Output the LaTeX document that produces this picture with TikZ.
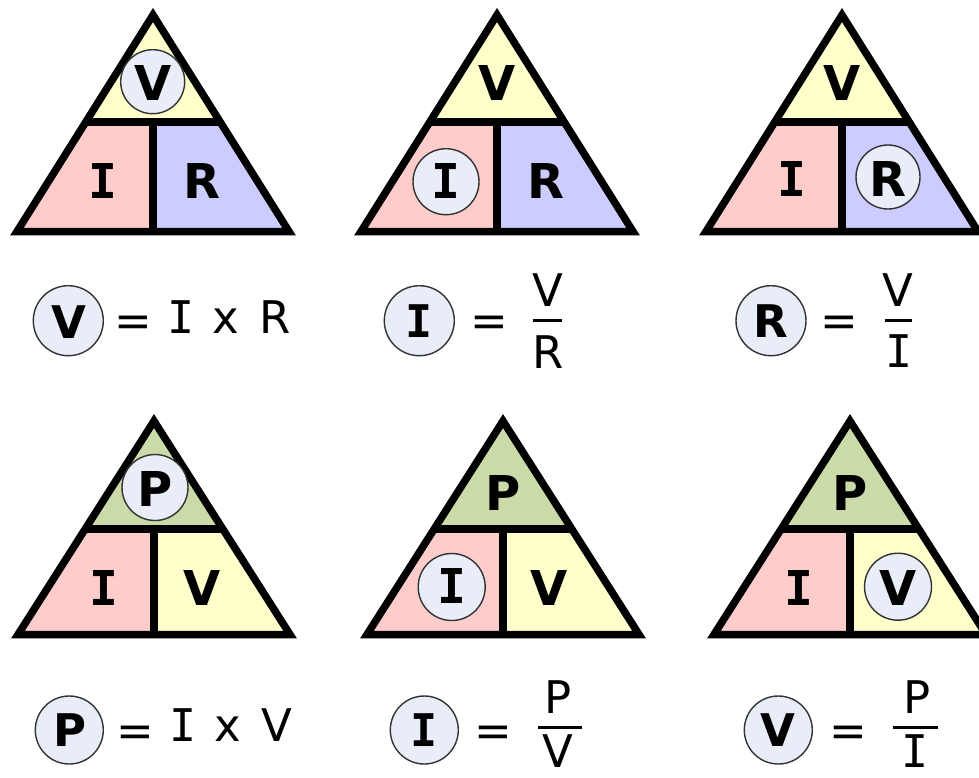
\documentclass[tikz,border=0pt]{standalone}
\usepackage{fontspec}
\setmainfont{DejaVu Sans}
\newfontfamily\serifI{DejaVu Sans Mono}
\usetikzlibrary{calc}

\definecolor{tyel}{HTML}{FFFFCC}
\definecolor{tpink}{HTML}{FFCCCC}
\definecolor{tblue}{HTML}{CCCCFF}
\definecolor{tgreen}{HTML}{CADAA8}
\definecolor{hlfill}{HTML}{E8EDF7}
\definecolor{hlline}{HTML}{333333}

\tikzset{
  edge/.style={line width=7.5pt, line join=miter, draw=black},
  tlet/.style={font=\fontsize{48}{48}\selectfont\bfseries, anchor=base, inner sep=0pt},
  flet/.style={font=\fontsize{45}{45}\selectfont\bfseries, anchor=base, inner sep=0pt},
  ftxt/.style={font=\fontsize{45}{45}\selectfont, anchor=base, inner sep=0pt},
  hl/.style={circle, draw=hlline, fill=hlfill, line width=1.4pt, inner sep=0pt, minimum size=#1},
  hl/.default=66pt,
  fbar/.style={line width=3pt, draw=black},
}

\newcommand\ohmtri[8]{%
  \coordinate (#1a) at (#2,#3);
  \coordinate (#1bl) at ({#2-136},#5);
  \coordinate (#1br) at ({#2+136},#5);
  \coordinate (#1dl) at ($(#1a)!{(#4-#3)/(#5-#3)}!(#1bl)$);
  \coordinate (#1dr) at ($(#1a)!{(#4-#3)/(#5-#3)}!(#1br)$);
  \coordinate (#1dm) at (#2,#4);
  \coordinate (#1bm) at (#2,#5);
  \fill[#6] (#1a) -- (#1dl) -- (#1dr) -- cycle;
  \fill[#7] (#1dl) -- (#1dm) -- (#1bm) -- (#1bl) -- cycle;
  \fill[#8] (#1dm) -- (#1dr) -- (#1br) -- (#1bm) -- cycle;
  \draw[edge] (#1a) -- (#1bl) -- (#1br) -- cycle;
  \draw[edge] (#1dl) -- (#1dr);
  \draw[edge] (#1dm) -- (#1bm);
}

\begin{document}
\begin{tikzpicture}[x=1pt,y=-1pt]
\useasboundingbox (0,0) rectangle (979,777);
\fill[white] (0,0) rectangle (979,777);

% ---------- triangles ----------
\ohmtri{ta}{153}{15}{122}{231.5}{tyel}{tpink}{tblue}
\ohmtri{tb}{497}{15}{122}{231.5}{tyel}{tpink}{tblue}
\ohmtri{tc}{842}{15}{122}{231.5}{tyel}{tpink}{tblue}
\ohmtri{td}{154}{421}{529}{634.5}{tgreen}{tpink}{tyel}
\ohmtri{te}{503}{421}{529}{634.5}{tgreen}{tpink}{tyel}
\ohmtri{tf}{850}{421}{529}{634.5}{tgreen}{tpink}{tyel}

% triangle 1 (V highlighted)
\node[hl=64pt] (hA) at (152.7,81.7) {};
\node[tlet] (aV) at (152.7,100) {V};
\node[tlet] (aI) at (103,198) {\serifI\bfseries I};
\node[tlet] (aR) at (202,198) {R};

% triangle 2 (I highlighted)
\node[tlet] (bV) at (496.7,100) {V};
\node[hl=66pt] (hB) at (446,181.7) {};
\node[tlet] (bI) at (446,198) {\serifI\bfseries I};
\node[tlet] (bR) at (546,198) {R};

% triangle 3 (R highlighted)
\node[tlet] (cV) at (841.7,100) {V};
\node[tlet] (cI) at (791.7,196) {\serifI\bfseries I};
\node[hl=64pt] (hC) at (888,177) {};
\node[tlet] (cR) at (888,196) {R};

% triangle 4 (P highlighted)
\node[hl=66pt] (hD) at (155,487.5) {};
\node[tlet] (dP) at (155,506) {P};
\node[tlet] (dI) at (104,605) {\serifI\bfseries I};
\node[tlet] (dV) at (202.5,605) {V};

% triangle 5 (I highlighted)
\node[tlet] (eP) at (503.3,510) {P};
\node[hl=67pt] (hE) at (451.7,587) {};
\node[tlet] (eI) at (451.7,603) {\serifI\bfseries I};
\node[tlet] (eV) at (549.5,605) {V};

% triangle 6 (V highlighted)
\node[tlet] (fP) at (850,510) {P};
\node[tlet] (fI) at (799,605) {\serifI\bfseries I};
\node[hl=67pt] (hF) at (898,586.7) {};
\node[tlet] (fV) at (898,605) {V};

% ---------- formulas, row 1 ----------
% V = I x R
\node[hl=70pt] (gA) at (68.3,320.7) {};
\node[flet] (gAV) at (69,338) {V};
\node[ftxt] (gAe) at (133,336) {=};
\node[ftxt] (gAI) at (181.5,333.3) {\serifI I};
\node[ftxt] (gAx) at (225.5,333.3) {x};
\node[ftxt] (gAR) at (275,333.3) {R};

% I = V / R
\node[hl=70pt] (gB) at (419.3,320.7) {};
\node[flet] (gBI) at (419.3,337) {\serifI\bfseries I};
\node[ftxt] (gBe) at (489,336) {=};
\node[ftxt] (gBn) at (548,306.7) {V};
\coordinate (gBl) at (533,320.7);
\coordinate (gBr) at (562,320.7);
\draw[fbar] (gBl) -- (gBr);
\node[ftxt] (gBd) at (548,368) {R};

% R = V / I
\node[hl=70pt] (gC) at (771,320.7) {};
\node[flet] (gCR) at (771,337) {R};
\node[ftxt] (gCe) at (839,336) {=};
\node[ftxt] (gCn) at (898,306.7) {V};
\coordinate (gCl) at (885,320.7);
\coordinate (gCr) at (912,320.7);
\draw[fbar] (gCl) -- (gCr);
\node[ftxt] (gCd) at (899,367) {\serifI I};

% ---------- formulas, row 2 ----------
% P = I x V
\node[hl=68pt] (gD) at (69.3,730) {};
\node[flet] (gDP) at (70,746) {P};
\node[ftxt] (gDe) at (135,746) {=};
\node[ftxt] (gDI) at (183.5,741.7) {\serifI I};
\node[ftxt] (gDx) at (227.5,741.7) {x};
\node[ftxt] (gDV) at (276.5,741.7) {V};

% I = P / V
\node[hl=68pt] (gE) at (424.3,730) {};
\node[flet] (gEI) at (424.3,746) {\serifI\bfseries I};
\node[ftxt] (gEe) at (493.5,746) {=};
\node[ftxt] (gEn) at (558,713) {P};
\coordinate (gEl) at (538,727);
\coordinate (gEr) at (582,727);
\draw[fbar] (gEl) -- (gEr);
\node[ftxt] (gEd) at (558,767) {V};

% V = P / I
\node[hl=68pt] (gF) at (778.3,730) {};
\node[flet] (gFV) at (778.3,746) {V};
\node[ftxt] (gFe) at (848,746) {=};
\node[ftxt] (gFn) at (917,713) {P};
\coordinate (gFl) at (893,727);
\coordinate (gFr) at (938,727);
\draw[fbar] (gFl) -- (gFr);
\node[ftxt] (gFd) at (915.5,767) {\serifI I};

\end{tikzpicture}
\end{document}
